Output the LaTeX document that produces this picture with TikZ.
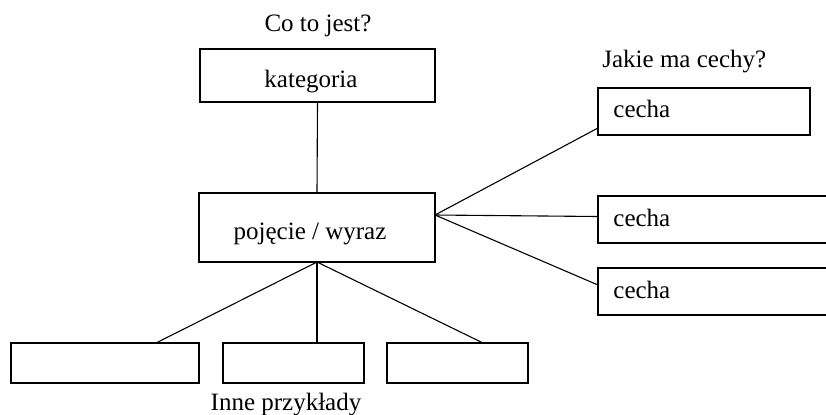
\documentclass[tikz,border=0pt]{standalone}
\usepackage{fontspec}
\setmainfont{Liberation Serif}
\usetikzlibrary{calc}

\tikzset{
  cbox/.style 2 args={draw, line width=0.6pt, inner sep=0pt, outer sep=0pt,
    minimum width=#1*0.5pt, minimum height=#2*0.5pt},
  txt/.style={inner sep=0pt, font=\fontsize{12.5}{15}\selectfont},
  conn/.style={line width=0.55pt},
}

\begin{document}
\begin{tikzpicture}[x=0.5pt, y=-0.5pt]
  \path[use as bounding box, clip] (0,0) rectangle (826,414);

  % concept and category
  \node[cbox={235}{53}] (kat) at (317.5,75.5) {};
  \node[cbox={236}{69}] (poj) at (317,227.5) {};
  \node[txt, anchor=base] (qkat) at (318,31) {Co to jest?};
  \node[txt, anchor=base] (tkat) at (311,87) {kategoria};
  \node[txt, anchor=base] (tpoj) at (310,239) {pojęcie / wyraz};
  \draw[conn] (kat.south) -- (poj.north);

  % features
  \node[txt, anchor=base west] (qcech) at (602,67) {Jakie ma cechy?};
  \node[cbox={212}{47}] (c1) at (704,111.5) {};
  \node[cbox={300}{47}] (c2) at (748,219.5) {};
  \node[cbox={300}{47}] (c3) at (748,291.5) {};
  \foreach \n/\ty in {1/117, 2/226, 3/298} {
    \node[txt, anchor=base west] (tc\n) at (613,\ty) {cecha};
  }
  \coordinate (pr) at ($(poj.east)+(0,-12.5)$);
  \draw[conn] (pr) -- ($(c1.south west)+(0,-7)$);
  \draw[conn] (pr) -- ($(c2.west)+(0,-3)$);
  \draw[conn] (pr) -- ($(c3.north west)+(0,17)$);

  % other examples
  \node[cbox={188}{40}] (b1) at (105,363) {};
  \node[cbox={141}{40}] (b2) at (293.5,363) {};
  \node[cbox={141}{40}] (b3) at (457.5,363) {};
  \node[txt, anchor=base] (qinne) at (286,410) {Inne przykłady};
  \draw[conn] (poj.south) -- ($(b1.north)+(51,0)$);
  \draw[conn] (poj.south) -- ($(b2.north)+(23.5,0)$);
  \draw[conn] (poj.south) -- ($(b3.north)+(25.5,0)$);
\end{tikzpicture}
\end{document}
